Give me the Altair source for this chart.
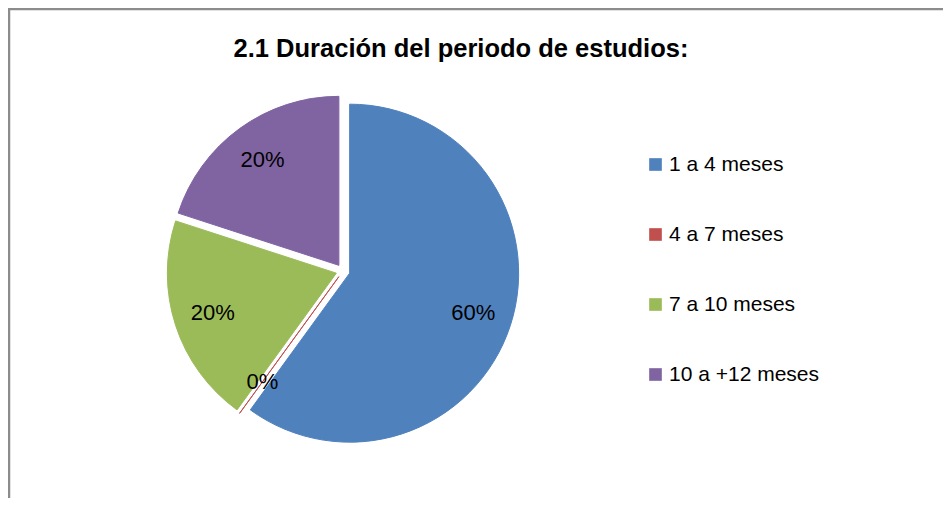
import math
import altair as alt
import pandas as pd

title_text = "2.1 Duración del periodo de estudios:"
categories = ["1 a 4 meses", "4 a 7 meses", "7 a 10 meses", "10 a +12 meses"]
values = [60, 0, 20, 20]
colors = ["#4F81BD", "#C0504D", "#9BBB59", "#8064A2"]

W, H = 935, 490
CX, CY = 335, 263          # pie centre inside the plot area (pixels)
R = 169                    # pie radius
EXPLODE = 7                # explosion distance
LABEL_R = 130              # label distance from slice tip
FONT = "Liberation Sans"

df = pd.DataFrame({"cat": categories, "val": values, "order": list(range(len(categories)))})

xscale = alt.Scale(domain=[-CX, W - CX], nice=False, zero=False)
yscale = alt.Scale(domain=[-(H - CY), CY], nice=False, zero=False)
cscale = alt.Scale(domain=categories, range=colors)

base = alt.Chart(df).transform_window(
    cum="sum(val)", sort=[alt.SortField("order")], frame=[None, 0]
).transform_joinaggregate(
    total="sum(val)"
).transform_calculate(
    start="(datum.cum - datum.val) / datum.total",
    end="datum.cum / datum.total",
    mid="(datum.cum - datum.val / 2) / datum.total * 2 * PI",
    ox=f"{EXPLODE} * sin(datum.mid)",
    oy=f"{EXPLODE} * cos(datum.mid)",
    lx=f"{EXPLODE + LABEL_R} * sin(datum.mid)",
    ly=f"{EXPLODE + LABEL_R} * cos(datum.mid)",
    label="format(datum.val / datum.total, '.0%')",
)

pie = base.mark_arc(outerRadius=R, strokeWidth=1).encode(
    x=alt.X("ox:Q", scale=xscale, axis=None),
    y=alt.Y("oy:Q", scale=yscale, axis=None),
    theta=alt.Theta("start:Q", scale=alt.Scale(domain=[0, 1]), stack=None),
    theta2="end:Q",
    color=alt.Color(
        "cat:N",
        scale=cscale,
        sort=categories,
        legend=alt.Legend(
            title=None,
            orient="none",
            legendX=637,
            legendY=146,
            symbolType="square",
            symbolSize=160,
            symbolStrokeWidth=0,
            labelFontSize=21,
            labelFont=FONT,
            labelColor="#000000",
            labelOffset=3,
            rowPadding=48,
            labelLimit=300,
        ),
    ),
    stroke=alt.Stroke("cat:N", scale=cscale, legend=None),
    order=alt.Order("order:Q"),
)

labels = base.mark_text(fontSize=22, font=FONT, color="#000000", baseline="middle", align="center").encode(
    x=alt.X("lx:Q", scale=xscale, axis=None),
    y=alt.Y("ly:Q", scale=yscale, axis=None),
    text="label:N",
)

tdata = alt.Data(values=[{"t": title_text}])
title = alt.Chart(tdata).mark_text(
    fontSize=25.5, font=FONT, fontWeight="bold", color="#000000", baseline="middle", align="center"
).encode(x=alt.value(453), y=alt.value(41), text="t:N")

frame_left = alt.Chart(tdata).mark_rule(color="#8c8c8c", strokeWidth=2.5).encode(
    x=alt.value(1), y=alt.value(0), y2=alt.value(H)
)
frame_top = alt.Chart(tdata).mark_rule(color="#8c8c8c", strokeWidth=2.5).encode(
    x=alt.value(0), x2=alt.value(W), y=alt.value(1)
)

chart = alt.layer(pie, labels, title, frame_left, frame_top).properties(
    width=W, height=H, autosize=alt.AutoSizeParams(type="none"), padding=0
).configure_view(stroke=None)

chart.save("out.html", embed_options={"renderer": "svg", "actions": False})
